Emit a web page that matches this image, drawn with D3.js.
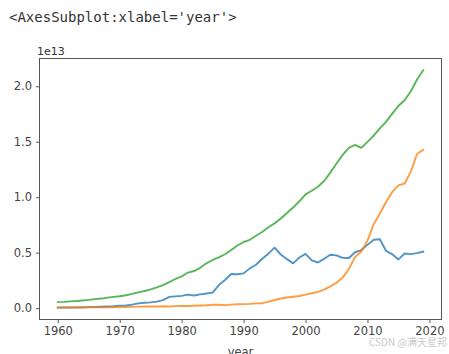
<!DOCTYPE html>
<html>
<head>
<meta charset="utf-8">
<script src="https://cdn.jsdelivr.net/npm/d3@7"></script>
<style>
html,body{margin:0;padding:0;background:#fff;}
svg{display:block;}
</style>
</head>
<body>
<svg id="chart" width="449" height="354"></svg>
<script>
const years = d3.range(1960, 2020);
// GDP (current US$), units of 1e12
const seriesA = [0.0444,0.0537,0.0608,0.0690,0.0817,0.0910,0.1056,0.1237,0.1469,0.1720,
0.2126,0.2403,0.3183,0.4324,0.4797,0.5216,0.5864,0.7215,1.0132,1.0553,
1.1054,1.2181,1.1347,1.2434,1.3183,1.3986,2.0785,2.5323,3.0716,3.0546,
3.1329,3.5842,3.9087,4.4547,4.9070,5.4492,4.8332,4.4148,4.0325,4.5623,
4.8875,4.3036,4.1152,4.4456,4.8150,4.7553,4.5303,4.5153,5.0379,5.2314,
5.7001,6.1575,6.2032,5.1557,4.8504,4.3895,4.9228,4.8667,4.9547,5.0818];
const seriesB = [0.0597,0.0500,0.0472,0.0507,0.0597,0.0704,0.0759,0.0720,0.0700,0.0787,
0.0915,0.0985,0.1122,0.1368,0.1425,0.1617,0.1517,0.1727,0.1495,0.1783,
0.1911,0.1956,0.2090,0.2303,0.2599,0.3094,0.3008,0.2729,0.3123,0.3479,
0.3609,0.3834,0.4269,0.4447,0.5643,0.7345,0.8637,0.9615,1.0290,1.0940,
1.2113,1.3394,1.4705,1.6603,1.9553,2.2860,2.7521,3.5522,4.5944,5.1017,
6.0872,7.5515,8.5322,9.5704,10.4757,11.0616,11.2333,12.3104,13.8948,14.2799];
const seriesC = [0.543,0.563,0.605,0.638,0.686,0.744,0.815,0.862,0.943,1.019,
1.073,1.165,1.280,1.425,1.545,1.684,1.873,2.082,2.352,2.627,
2.857,3.207,3.343,3.634,4.037,4.339,4.580,4.855,5.236,5.642,
5.963,6.158,6.520,6.859,7.287,7.640,8.073,8.578,9.063,9.631,
10.252,10.582,10.936,11.458,12.214,13.037,13.815,14.452,14.713,14.449,
14.992,15.543,16.197,16.785,17.527,18.238,18.745,19.543,20.612,21.433];
const xTicks = [1960,1970,1980,1990,2000,2010,2020];
const yTicks = [0.0,0.5,1.0,1.5,2.0];
const colors = ["#1f77b4","#ff7f0e","#2ca02c"];

const svg = d3.select("#chart");
const L = 39.5, R = 441.5, T = 58.5, B = 319.5;

const all = seriesA.concat(seriesB, seriesC).map(v => v / 10);
const ymin = d3.min(all), ymax = d3.max(all);
const ypad = (ymax - ymin) * 0.05;
const x = d3.scaleLinear().domain([1960 - 59*0.05, 2019 + 59*0.05]).range([L, R]);
const y = d3.scaleLinear().domain([ymin - ypad, ymax + ypad]).range([B, T]);

svg.append("text").attr("x", 9).attr("y", 22)
  .attr("font-family", "DejaVu Sans Mono, monospace").attr("font-size", "14px")
  .attr("fill", "#333").text("<AxesSubplot:xlabel='year'>");

const line = d3.line().x((d, i) => x(years[i])).y(d => y(d / 10));
[seriesA, seriesB, seriesC].forEach((s, k) => {
  svg.append("path").datum(s).attr("d", line)
    .attr("fill", "none").attr("stroke", colors[k]).attr("stroke-width", 1.9)
    .attr("stroke-opacity", 0.78)
    .attr("stroke-linejoin", "round").attr("stroke-linecap", "square");
});

const font = "DejaVu Sans, sans-serif";
const xAxis = svg.append("g").attr("transform", `translate(0,${B})`)
  .call(d3.axisBottom(x).tickValues(xTicks).tickFormat(d3.format("d")).tickSizeOuter(0).tickSize(3.5).tickPadding(4));
const yAxis = svg.append("g").attr("transform", `translate(${L},0)`)
  .call(d3.axisLeft(y).tickValues(yTicks).tickFormat(d3.format(".1f")).tickSizeOuter(0).tickSize(3.5).tickPadding(4));
[xAxis, yAxis].forEach(g => {
  g.select(".domain").remove();
  g.selectAll("line").attr("stroke", "#444").attr("stroke-width", 0.9);
  g.selectAll("text").attr("font-family", font).attr("font-size", "11.5px").attr("fill", "#444");
});

svg.append("rect").attr("x", L).attr("y", T).attr("width", R - L).attr("height", B - T)
  .attr("fill", "none").attr("stroke", "#555").attr("stroke-width", 1);

svg.append("text").attr("x", 37).attr("y", 55)
  .attr("font-family", font).attr("font-size", "11px").attr("fill", "#333").text("1e13");

svg.append("text").attr("x", (L + R) / 2).attr("y", 356).attr("text-anchor", "middle")
  .attr("font-family", font).attr("font-size", "11.5px").attr("fill", "#444").text("year");

svg.append("text").attr("x", 369).attr("y", 346)
  .attr("font-family", "Noto Sans CJK SC, DejaVu Sans, sans-serif").attr("font-size", "10px")
  .attr("fill", "#c8c8c8").text("CSDN @满天星邦");
</script>
</body>
</html>
